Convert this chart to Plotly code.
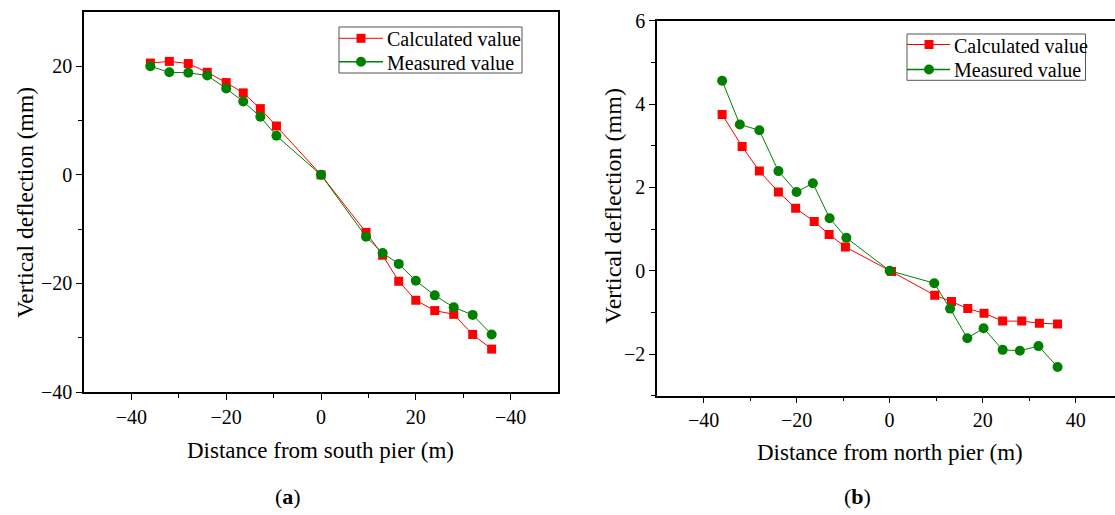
import plotly.graph_objects as go

# ---- Data (a): south pier ----
x_a = [-36, -32, -28, -24, -20, -16.4, -12.8, -9.4, 0, 9.5, 13, 16.4, 20, 24, 28, 32, 36]
calc_a = [20.6, 20.9, 20.5, 18.9, 17.0, 15.1, 12.2, 9.0, 0.0, -10.6, -14.8, -19.6, -23.1, -25.0, -25.7, -29.4, -32.1]
meas_a = [20.0, 18.9, 18.8, 18.3, 15.9, 13.5, 10.7, 7.2, 0.0, -11.4, -14.4, -16.4, -19.5, -22.2, -24.4, -25.8, -29.4]

# ---- Data (b): north pier ----
x_b_calc = [-36, -31.7, -28, -23.9, -20.2, -16.2, -13, -9.5, 0.4, 9.7, 13.3, 16.8, 20.3, 24.3, 28.4, 32.2, 36.1]
calc_b = [3.75, 2.98, 2.39, 1.89, 1.50, 1.18, 0.87, 0.57, -0.02, -0.59, -0.74, -0.91, -1.02, -1.21, -1.21, -1.26, -1.28]
x_b_meas = [-36, -32.2, -28, -23.9, -20, -16.5, -12.9, -9.3, 0, 9.6, 13, 16.7, 20.2, 24.3, 28, 32, 36.1]
meas_b = [4.56, 3.51, 3.37, 2.39, 1.89, 2.10, 1.26, 0.79, 0.0, -0.30, -0.91, -1.62, -1.38, -1.90, -1.92, -1.81, -2.31]

# tick labels
xa_tickvals = [-40, -20, 0, 20, 40]
xa_ticktext = ["\u221240", "\u221220", "0", "20", "\u221240"]
xb_tickvals = [-40, -20, 0, 20, 40]
xb_ticktext = ["\u221240", "\u221220", "0", "20", "40"]
ya_tickvals = [-40, -20, 0, 20]
ya_ticktext = ["\u221240", "\u221220", "0", "20"]
yb_tickvals = [-2, 0, 2, 4, 6]
yb_ticktext = ["\u22122", "0", "2", "4", "6"]
series_names = ["Calculated value", "Measured value"]

RED = "#ff0000"
GREEN = "#008000"
FONT = "Liberation Serif"
W, H = 1115, 515

fig = go.Figure()

fig.add_trace(go.Scatter(x=x_a, y=calc_a, mode="lines+markers", name=series_names[0],
                         line=dict(color=RED, width=1), marker=dict(symbol="square", size=9, color=RED),
                         xaxis="x", yaxis="y"))
fig.add_trace(go.Scatter(x=x_a, y=meas_a, mode="lines+markers", name=series_names[1],
                         line=dict(color=GREEN, width=1), marker=dict(symbol="circle", size=10, color=GREEN),
                         xaxis="x", yaxis="y"))
fig.add_trace(go.Scatter(x=x_b_calc, y=calc_b, mode="lines+markers", name=series_names[0],
                         line=dict(color=RED, width=1), marker=dict(symbol="square", size=9, color=RED),
                         xaxis="x2", yaxis="y2"))
fig.add_trace(go.Scatter(x=x_b_meas, y=meas_b, mode="lines+markers", name=series_names[1],
                         line=dict(color=GREEN, width=1), marker=dict(symbol="circle", size=10, color=GREEN),
                         xaxis="x2", yaxis="y2"))

axis_common = dict(showgrid=False, zeroline=False, showline=True, linecolor="black", linewidth=1.5,
                   ticks="outside", ticklen=6, tickwidth=1, tickcolor="black", automargin=False,
                   tickfont=dict(family=FONT, size=20, color="black"))


def px_x(p):
    return p / W


def px_y(p):
    return 1 - p / H


minor_style = dict(ticks="outside", ticklen=4, tickcolor="black")

shapes = []
annotations = []


def add_legend(box, line_x, mark_x, text_x, rows):
    x0, y0, x1, y1 = box
    shapes.append(dict(type="rect", xref="paper", yref="paper",
                       x0=px_x(x0), x1=px_x(x1), y0=px_y(y1), y1=px_y(y0),
                       line=dict(color="#555555", width=1), fillcolor="white", layer="above"))
    colors = [RED, GREEN]
    for i, ry in enumerate(rows):
        shapes.append(dict(type="line", xref="paper", yref="paper",
                           x0=px_x(line_x[0]), x1=px_x(line_x[1]), y0=px_y(ry), y1=px_y(ry),
                           line=dict(color=colors[i], width=1.5 if i else 1), layer="above"))
        if i == 0:
            s = 4.5
            shapes.append(dict(type="rect", xref="paper", yref="paper", xsizemode="pixel", ysizemode="pixel",
                               xanchor=px_x(mark_x), yanchor=px_y(ry), x0=-s, x1=s, y0=-s, y1=s,
                               line=dict(width=0), fillcolor=RED, layer="above"))
        else:
            s = 5
            shapes.append(dict(type="circle", xref="paper", yref="paper", xsizemode="pixel", ysizemode="pixel",
                               xanchor=px_x(mark_x), yanchor=px_y(ry), x0=-s, x1=s, y0=-s, y1=s,
                               line=dict(width=0), fillcolor=GREEN, layer="above"))
        annotations.append(dict(text=series_names[i], x=px_x(text_x), y=px_y(ry + 1), xref="paper", yref="paper",
                                showarrow=False, font=dict(family=FONT, size=20, color="black"),
                                xanchor="left", yanchor="middle"))


add_legend((339, 27, 522, 73), (339, 383), 361, 385, [38.3, 61.7])
add_legend((907, 34, 1085.5, 80.3), (907, 950), 929, 952, [44.5, 69.5])

# the right panel is cut by the image edge: keep its right side open
shapes.append(dict(type="rect", xref="paper", yref="paper",
                   x0=px_x(1111), x1=1.0, y0=px_y(394.5), y1=px_y(22),
                   line=dict(width=0), fillcolor="white", layer="above"))

annotations += [
    dict(text="Vertical deflection (mm)", x=px_x(25), y=px_y(203), xref="paper", yref="paper",
         textangle=-90, showarrow=False, font=dict(family=FONT, size=23.5), xanchor="center", yanchor="middle"),
    dict(text="Distance from south pier (m)", x=px_x(320), y=px_y(450), xref="paper", yref="paper",
         showarrow=False, font=dict(family=FONT, size=23), xanchor="center", yanchor="middle"),
    dict(text="Vertical deflection (mm)", x=px_x(613), y=px_y(206), xref="paper", yref="paper",
         textangle=-90, showarrow=False, font=dict(family=FONT, size=24), xanchor="center", yanchor="middle"),
    dict(text="Distance from north pier (m)", x=px_x(890), y=px_y(452), xref="paper", yref="paper",
         showarrow=False, font=dict(family=FONT, size=23), xanchor="center", yanchor="middle"),
    dict(text="(<b>a</b>)", x=px_x(288), y=px_y(496), xref="paper", yref="paper",
         showarrow=False, font=dict(family=FONT, size=22), xanchor="center", yanchor="middle"),
    dict(text="(<b>b</b>)", x=px_x(857), y=px_y(496), xref="paper", yref="paper",
         showarrow=False, font=dict(family=FONT, size=22), xanchor="center", yanchor="middle"),
]

fig.update_layout(
    template="none",
    width=W, height=H, autosize=False,
    margin=dict(l=0, r=0, t=0, b=0, pad=0, autoexpand=False),
    paper_bgcolor="white", plot_bgcolor="white",
    font=dict(family=FONT, size=20, color="black"),
    showlegend=False,
    xaxis=dict(domain=[px_x(84), px_x(558)], range=[-50, 50], anchor="y", mirror=True,
               tickmode="array", tickvals=xa_tickvals, ticktext=xa_ticktext,
               minor=dict(tickvals=[-30, -10, 10, 30], **minor_style), **axis_common),
    yaxis=dict(domain=[px_y(392), px_y(12)], range=[-40, 30], anchor="x", mirror=True,
               tickmode="array", tickvals=ya_tickvals, ticktext=ya_ticktext,
               minor=dict(tickvals=[-30, -10, 10], **minor_style), **axis_common),
    xaxis2=dict(domain=[px_x(657), 1.0], range=[-50, 48.45], anchor="y2", mirror=True,
                tickmode="array", tickvals=xb_tickvals, ticktext=xb_ticktext,
                minor=dict(tickvals=[-30, -10, 10, 30], **minor_style), **axis_common),
    yaxis2=dict(domain=[px_y(395.7), px_y(20.7)], range=[-3, 6], anchor="x2", mirror=False,
                tickmode="array", tickvals=yb_tickvals, ticktext=yb_ticktext,
                minor=dict(tickvals=[-3, -1, 1, 3, 5], **minor_style), **axis_common),
    shapes=shapes,
    annotations=annotations,
)

fig.write_html("out.html", config={"displayModeBar": False},
               post_script="document.body.style.margin='0';document.body.style.overflow='hidden';"
                           "document.documentElement.style.overflow='hidden';")
